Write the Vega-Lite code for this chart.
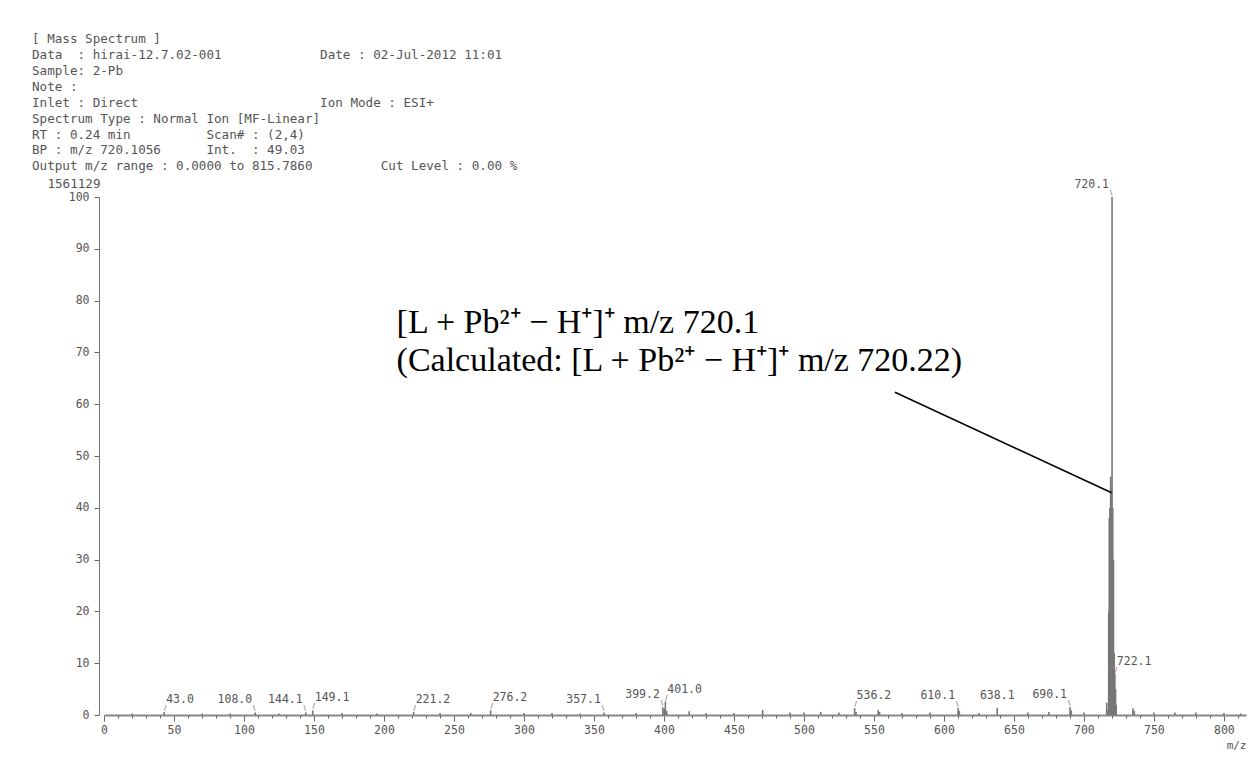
{
  "$schema": "https://vega.github.io/schema/vega-lite/v6.json",
  "width": 1142,
  "height": 518,
  "autosize": {"type": "none"},
  "padding": {"left": 104, "top": 197, "right": 4, "bottom": 42},
  "background": "white",
  "config": {"view": {"stroke": null}, "axis": {"grid": false}},
  "title": {
    "text": [
      "[ Mass Spectrum ]",
      "Data\u00a0\u00a0: hirai-12.7.02-001\u00a0\u00a0\u00a0\u00a0\u00a0\u00a0\u00a0\u00a0\u00a0\u00a0\u00a0\u00a0\u00a0Date : 02-Jul-2012 11:01",
      "Sample: 2-Pb",
      "Note :",
      "Inlet : Direct\u00a0\u00a0\u00a0\u00a0\u00a0\u00a0\u00a0\u00a0\u00a0\u00a0\u00a0\u00a0\u00a0\u00a0\u00a0\u00a0\u00a0\u00a0\u00a0\u00a0\u00a0\u00a0\u00a0\u00a0Ion Mode : ESI+",
      "Spectrum Type : Normal Ion [MF-Linear]",
      "RT : 0.24 min\u00a0\u00a0\u00a0\u00a0\u00a0\u00a0\u00a0\u00a0\u00a0\u00a0Scan# : (2,4)",
      "BP : m/z 720.1056\u00a0\u00a0\u00a0\u00a0\u00a0\u00a0Int.\u00a0\u00a0: 49.03",
      "Output m/z range : 0.0000 to 815.7860\u00a0\u00a0\u00a0\u00a0\u00a0\u00a0\u00a0\u00a0\u00a0Cut Level : 0.00 %"
    ],
    "anchor": "start",
    "frame": "group",
    "font": "DejaVu Sans Mono",
    "fontSize": 12.6,
    "fontWeight": "normal",
    "color": "#555555",
    "lineHeight": 15.9,
    "dx": -72,
    "dy": 17,
    "baseline": "bottom",
    "offset": 8
  },
  "resolve": {"axis": {"x": "independent"}},
  "datasets": {
    "peaks": [
      {"mz": 20, "intensity": 0.3}, {"mz": 43.0, "intensity": 0.6}, {"mz": 70, "intensity": 0.3},
      {"mz": 90, "intensity": 0.3}, {"mz": 108.0, "intensity": 0.5}, {"mz": 125, "intensity": 0.3},
      {"mz": 144.1, "intensity": 0.5}, {"mz": 149.1, "intensity": 0.9}, {"mz": 170, "intensity": 0.4},
      {"mz": 195, "intensity": 0.3}, {"mz": 221.2, "intensity": 0.6}, {"mz": 240, "intensity": 0.4},
      {"mz": 262, "intensity": 0.4}, {"mz": 276.2, "intensity": 0.9}, {"mz": 300, "intensity": 0.4},
      {"mz": 320, "intensity": 0.4}, {"mz": 340, "intensity": 0.3}, {"mz": 357.1, "intensity": 0.5},
      {"mz": 380, "intensity": 0.4}, {"mz": 399.2, "intensity": 1.5}, {"mz": 400.2, "intensity": 1.2},
      {"mz": 401.0, "intensity": 2.6}, {"mz": 402.0, "intensity": 0.8}, {"mz": 418, "intensity": 0.7},
      {"mz": 430, "intensity": 0.4}, {"mz": 450, "intensity": 0.4}, {"mz": 470.5, "intensity": 1.0},
      {"mz": 490, "intensity": 0.5}, {"mz": 500, "intensity": 0.5}, {"mz": 512, "intensity": 0.6},
      {"mz": 525, "intensity": 0.5}, {"mz": 536.2, "intensity": 1.3}, {"mz": 537.2, "intensity": 0.6},
      {"mz": 553, "intensity": 0.9}, {"mz": 554, "intensity": 0.6}, {"mz": 570, "intensity": 0.4},
      {"mz": 590, "intensity": 0.5}, {"mz": 610.1, "intensity": 1.4}, {"mz": 611, "intensity": 0.8},
      {"mz": 625, "intensity": 0.4}, {"mz": 638.1, "intensity": 1.4}, {"mz": 660, "intensity": 0.5},
      {"mz": 675, "intensity": 0.6}, {"mz": 690.1, "intensity": 1.5}, {"mz": 691, "intensity": 0.9},
      {"mz": 700, "intensity": 0.5}, {"mz": 716.3, "intensity": 2.4}, {"mz": 717.2, "intensity": 1.0},
      {"mz": 717.7, "intensity": 20}, {"mz": 718.1, "intensity": 38}, {"mz": 718.6, "intensity": 40},
      {"mz": 719.1, "intensity": 46}, {"mz": 719.6, "intensity": 44}, {"mz": 720.1, "intensity": 100},
      {"mz": 720.6, "intensity": 40}, {"mz": 721.1, "intensity": 30}, {"mz": 721.6, "intensity": 12},
      {"mz": 722.1, "intensity": 8}, {"mz": 722.6, "intensity": 5}, {"mz": 723.1, "intensity": 2},
      {"mz": 735, "intensity": 1.3}, {"mz": 736, "intensity": 0.8}, {"mz": 750, "intensity": 0.5},
      {"mz": 765, "intensity": 0.5}, {"mz": 780, "intensity": 0.5}, {"mz": 800, "intensity": 0.4},
      {"mz": 812, "intensity": 0.3}
    ],
    "labels": [
      {"mz": 43.0, "intensity": 0.6, "label": "43.0"},
      {"mz": 108.0, "intensity": 0.5, "label": "108.0"},
      {"mz": 144.1, "intensity": 0.5, "label": "144.1"},
      {"mz": 149.1, "intensity": 0.9, "label": "149.1"},
      {"mz": 221.2, "intensity": 0.6, "label": "221.2"},
      {"mz": 276.2, "intensity": 0.9, "label": "276.2"},
      {"mz": 357.1, "intensity": 0.5, "label": "357.1"},
      {"mz": 399.2, "intensity": 1.5, "label": "399.2"},
      {"mz": 401.0, "intensity": 2.6, "label": "401.0"},
      {"mz": 536.2, "intensity": 1.3, "label": "536.2"},
      {"mz": 610.1, "intensity": 1.4, "label": "610.1"},
      {"mz": 638.1, "intensity": 1.4, "label": "638.1"},
      {"mz": 690.1, "intensity": 1.5, "label": "690.1"},
      {"mz": 720.1, "intensity": 100, "label": "720.1"},
      {"mz": 722.1, "intensity": 8, "label": "722.1"}
    ],
    "note": [
      {"mz": 209, "intensity": 75.6, "text": "[L + Pb²⁺ − H⁺]⁺ m/z 720.1"},
      {"mz": 209, "intensity": 68.3, "text": "(Calculated: [L + Pb²⁺ − H⁺]⁺ m/z 720.22)"}
    ],
    "leader": [
      {"mz": 565, "intensity": 62.3, "mz2": 719.8, "intensity2": 42.9}
    ]
  },
  "layer": [
    {
      "data": {"name": "peaks"},
      "mark": {"type": "rule", "color": "#777777", "strokeWidth": 1.6},
      "encoding": {
        "x": {
          "field": "mz", "type": "quantitative",
          "scale": {"domain": [0, 815.786], "nice": false, "zero": false},
          "axis": {
            "orient": "bottom",
            "title": "m/z", "titleAnchor": "end", "titleAlign": "right", "titleFont": "DejaVu Sans Mono",
            "titleFontSize": 11, "titleFontWeight": "normal", "titleColor": "#555555", "titlePadding": 4,
            "values": [0,50,100,150,200,250,300,350,400,450,500,550,600,650,700,750,800],
            "format": "d",
            "tickSize": 6,
            "tickColor": "#666666", "domainColor": "#888888", "domainWidth": 2,
            "labelFont": "DejaVu Sans Mono", "labelFontSize": 11.5, "labelColor": "#555555",
            "labelPadding": 3, "labelFlush": false, "labelOverlap": false
          }
        },
        "y": {
          "field": "intensity", "type": "quantitative",
          "scale": {"domain": [0, 100], "nice": false},
          "axis": {
            "title": "1561129", "titleAngle": 0, "titleAnchor": "end", "titleAlign": "right",
            "titleBaseline": "middle", "titleX": 1, "titleY": -14,
            "titleFont": "DejaVu Sans Mono", "titleFontSize": 12.6, "titleFontWeight": "normal", "titleColor": "#555555",
            "offset": 5,
            "values": [0,5,10,15,20,25,30,35,40,45,50,55,60,65,70,75,80,85,90,95,100],
            "labelExpr": "datum.value % 10 === 0 ? datum.label : ''",
            "tickSize": {"condition": {"test": "datum.value % 10 === 0", "value": 5}, "value": 3},
            "tickColor": "#666666", "domainColor": "#777777", "domainWidth": 1,
            "labelFont": "DejaVu Sans Mono", "labelFontSize": 11.5, "labelColor": "#555555",
            "labelPadding": 5, "labelOverlap": false
          }
        },
        "y2": {"datum": 0}
      }
    },
    {
      "data": {"name": "labels"},
      "transform": [{"filter": {"field": "label", "oneOf": ["43.0", "149.1", "221.2", "276.2", "401.0", "536.2", "722.1"]}}],
      "mark": {"type": "text", "align": "left", "baseline": "middle", "dx": 2, "dy": -12, "font": "DejaVu Sans Mono", "fontSize": 11.5, "color": "#555555"},
      "encoding": {
        "x": {
          "field": "mz", "type": "quantitative",
          "axis": {
            "orient": "bottom", "title": null, "labels": false, "domain": false,
            "values": [10,20,30,40,60,70,80,90,110,120,130,140,160,170,180,190,210,220,230,240,260,270,280,290,310,320,330,340,360,370,380,390,410,420,430,440,460,470,480,490,510,520,530,540,560,570,580,590,610,620,630,640,660,670,680,690,710,720,730,740,760,770,780,790,810],
            "tickSize": 3, "tickColor": "#666666"
          }
        },
        "y": {"field": "intensity", "type": "quantitative"},
        "text": {"field": "label"}
      }
    },
    {
      "data": {"name": "labels"},
      "transform": [{"filter": {"field": "label", "oneOf": ["108.0", "144.1", "357.1", "399.2", "610.1", "690.1", "720.1"]}}],
      "mark": {"type": "text", "align": "right", "baseline": "middle", "dx": -3, "dy": -12, "font": "DejaVu Sans Mono", "fontSize": 11.5, "color": "#555555"},
      "encoding": {
        "x": {"field": "mz", "type": "quantitative", "axis": null},
        "y": {"field": "intensity", "type": "quantitative"},
        "text": {"field": "label"}
      }
    },
    {
      "data": {"name": "labels"},
      "transform": [{"filter": {"field": "label", "oneOf": ["638.1"]}}],
      "mark": {"type": "text", "align": "center", "baseline": "middle", "dy": -12, "font": "DejaVu Sans Mono", "fontSize": 11.5, "color": "#555555"},
      "encoding": {
        "x": {"field": "mz", "type": "quantitative", "axis": null},
        "y": {"field": "intensity", "type": "quantitative"},
        "text": {"field": "label"}
      }
    },
    {
      "data": {"name": "labels"},
      "transform": [{"filter": {"field": "label", "oneOf": ["43.0", "149.1", "221.2", "276.2", "401.0", "536.2", "722.1"]}}],
      "mark": {"type": "text", "align": "center", "baseline": "middle", "dx": 1, "dy": -4, "font": "DejaVu Sans", "fontSize": 7, "color": "#555555", "text": "/"},
      "encoding": {
        "x": {"field": "mz", "type": "quantitative", "axis": null},
        "y": {"field": "intensity", "type": "quantitative"}
      }
    },
    {
      "data": {"name": "labels"},
      "transform": [{"filter": {"field": "label", "oneOf": ["108.0", "144.1", "357.1", "399.2", "610.1", "690.1", "720.1"]}}],
      "mark": {"type": "text", "align": "center", "baseline": "middle", "dx": -1, "dy": -4, "font": "DejaVu Sans", "fontSize": 7, "color": "#555555", "text": "\\"},
      "encoding": {
        "x": {"field": "mz", "type": "quantitative", "axis": null},
        "y": {"field": "intensity", "type": "quantitative"}
      }
    },
    {
      "data": {"name": "leader"},
      "mark": {"type": "rule", "color": "black", "strokeWidth": 1.5},
      "encoding": {
        "x": {"field": "mz", "type": "quantitative", "axis": null},
        "y": {"field": "intensity", "type": "quantitative"},
        "x2": {"field": "mz2"},
        "y2": {"field": "intensity2"}
      }
    },
    {
      "data": {"name": "note"},
      "mark": {"type": "text", "align": "left", "baseline": "middle", "font": "Liberation Serif", "fontSize": 34, "color": "black"},
      "encoding": {
        "x": {"field": "mz", "type": "quantitative", "axis": null},
        "y": {"field": "intensity", "type": "quantitative"},
        "text": {"field": "text"}
      }
    }
  ]
}
